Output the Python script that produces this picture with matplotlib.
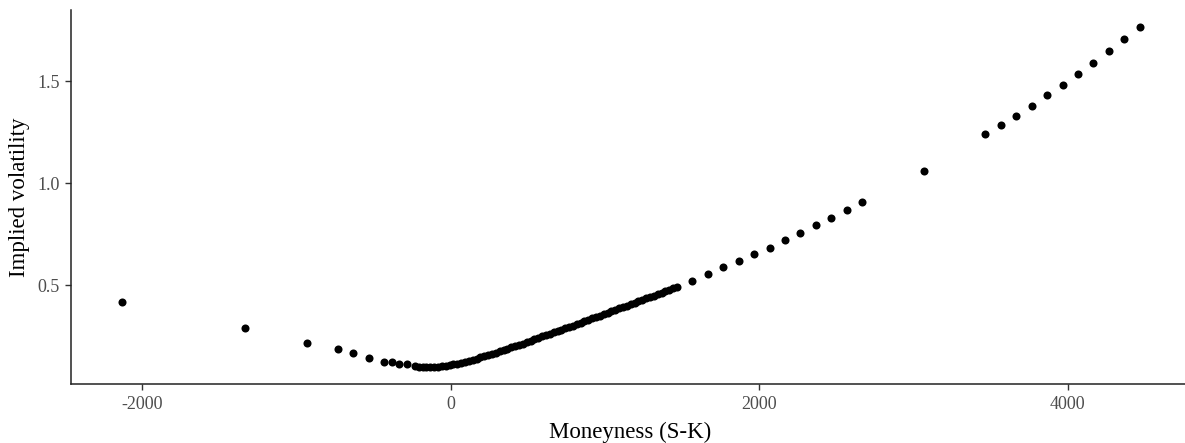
import matplotlib
matplotlib.use('Agg')
import matplotlib.pyplot as plt

# sparse points on the left wing
left_x = [-2133, -1333, -933, -733, -633, -533, -433, -383, -333, -283]
left_iv = [0.419, 0.291, 0.218, 0.188, 0.167, 0.142, 0.127, 0.127, 0.115, 0.115]

# dense strikes near the money
mid_x = [-233, -208, -183, -158, -133, -108, -83, -58, -33, -8,
         17, 42, 67, 92, 117, 142, 167, 192, 217, 242,
         267, 292, 317, 342, 367, 392, 417, 442, 467, 492,
         517, 542, 567, 592, 617, 642, 667, 692, 717, 742,
         767, 792, 817, 842, 867, 892, 917, 942, 967, 992,
         1017, 1042, 1067, 1092, 1117, 1142, 1167, 1192, 1217, 1242,
         1267, 1292, 1317, 1342, 1367, 1392, 1417, 1442, 1467]
mid_iv = [0.104, 0.102, 0.101, 0.100, 0.100, 0.101, 0.102, 0.104, 0.107, 0.110,
          0.113, 0.117, 0.121, 0.126, 0.131, 0.136, 0.141, 0.147, 0.153, 0.159,
          0.165, 0.171, 0.177, 0.183, 0.189, 0.196, 0.202, 0.209, 0.215, 0.222,
          0.229, 0.236, 0.243, 0.250, 0.256, 0.263, 0.270, 0.276, 0.283, 0.290,
          0.297, 0.303, 0.310, 0.317, 0.324, 0.331, 0.338, 0.345, 0.352, 0.359,
          0.366, 0.373, 0.380, 0.387, 0.394, 0.401, 0.408, 0.415, 0.422, 0.429,
          0.436, 0.443, 0.450, 0.457, 0.464, 0.471, 0.478, 0.485, 0.492]

# sparse points on the right wing
right_x = [1567, 1667, 1767, 1867, 1967, 2067, 2167, 2267, 2367, 2467, 2567, 2667,
           3067, 3467, 3567, 3667, 3767, 3867, 3967, 4067, 4167, 4267, 4367, 4467]
right_iv = [0.520, 0.557, 0.588, 0.618, 0.654, 0.683, 0.721, 0.758, 0.794, 0.830, 0.870, 0.907,
            1.062, 1.239, 1.283, 1.328, 1.379, 1.430, 1.482, 1.534, 1.587, 1.646, 1.704, 1.765]

x_ticks = [-2000, 0, 2000, 4000]
y_ticks = [0.5, 1.0, 1.5]

plt.rcParams['font.family'] = ['Liberation Serif', 'DejaVu Serif']

W, H = 1185, 443
fig = plt.figure(figsize=(W / 100, H / 100), dpi=100)
ax = fig.add_axes([71 / W, 1 - 384 / H, (1190.5 - 71) / W, (384 - 10) / H])

moneyness = left_x + mid_x + right_x
iv = left_iv + mid_iv + right_iv
ax.plot(moneyness, iv, 'o', color='black', markersize=5.8, markeredgewidth=0)

ax.set_xlim(-2463, 4797)
ax.set_ylim(0.017, 1.848)
ax.set_xticks(x_ticks)
ax.set_xticklabels([str(t) for t in x_ticks])
ax.set_yticks(y_ticks)
ax.set_yticklabels(['0.5', '1.0', '1.5'])

for s in ['top', 'right']:
    ax.spines[s].set_visible(False)
for s in ['left', 'bottom']:
    ax.spines[s].set_color('#222222')
    ax.spines[s].set_linewidth(1.1)

ax.tick_params(axis='both', colors='#333333', labelcolor='#4D4D4D',
               labelsize=13, length=4.5, width=1.0)
ax.tick_params(axis='x', pad=4.3)
ax.tick_params(axis='y', pad=3.6)

fig.text(630 / W, 1 - 432 / H, 'Moneyness (S-K)', ha='center', va='center', fontsize=16.5)
fig.text(20 / W, 1 - 197 / H, 'Implied volatility', ha='center', va='center',
         rotation=90, fontsize=16.5)

fig.savefig('out.png', dpi=100)
plt.close('all')
